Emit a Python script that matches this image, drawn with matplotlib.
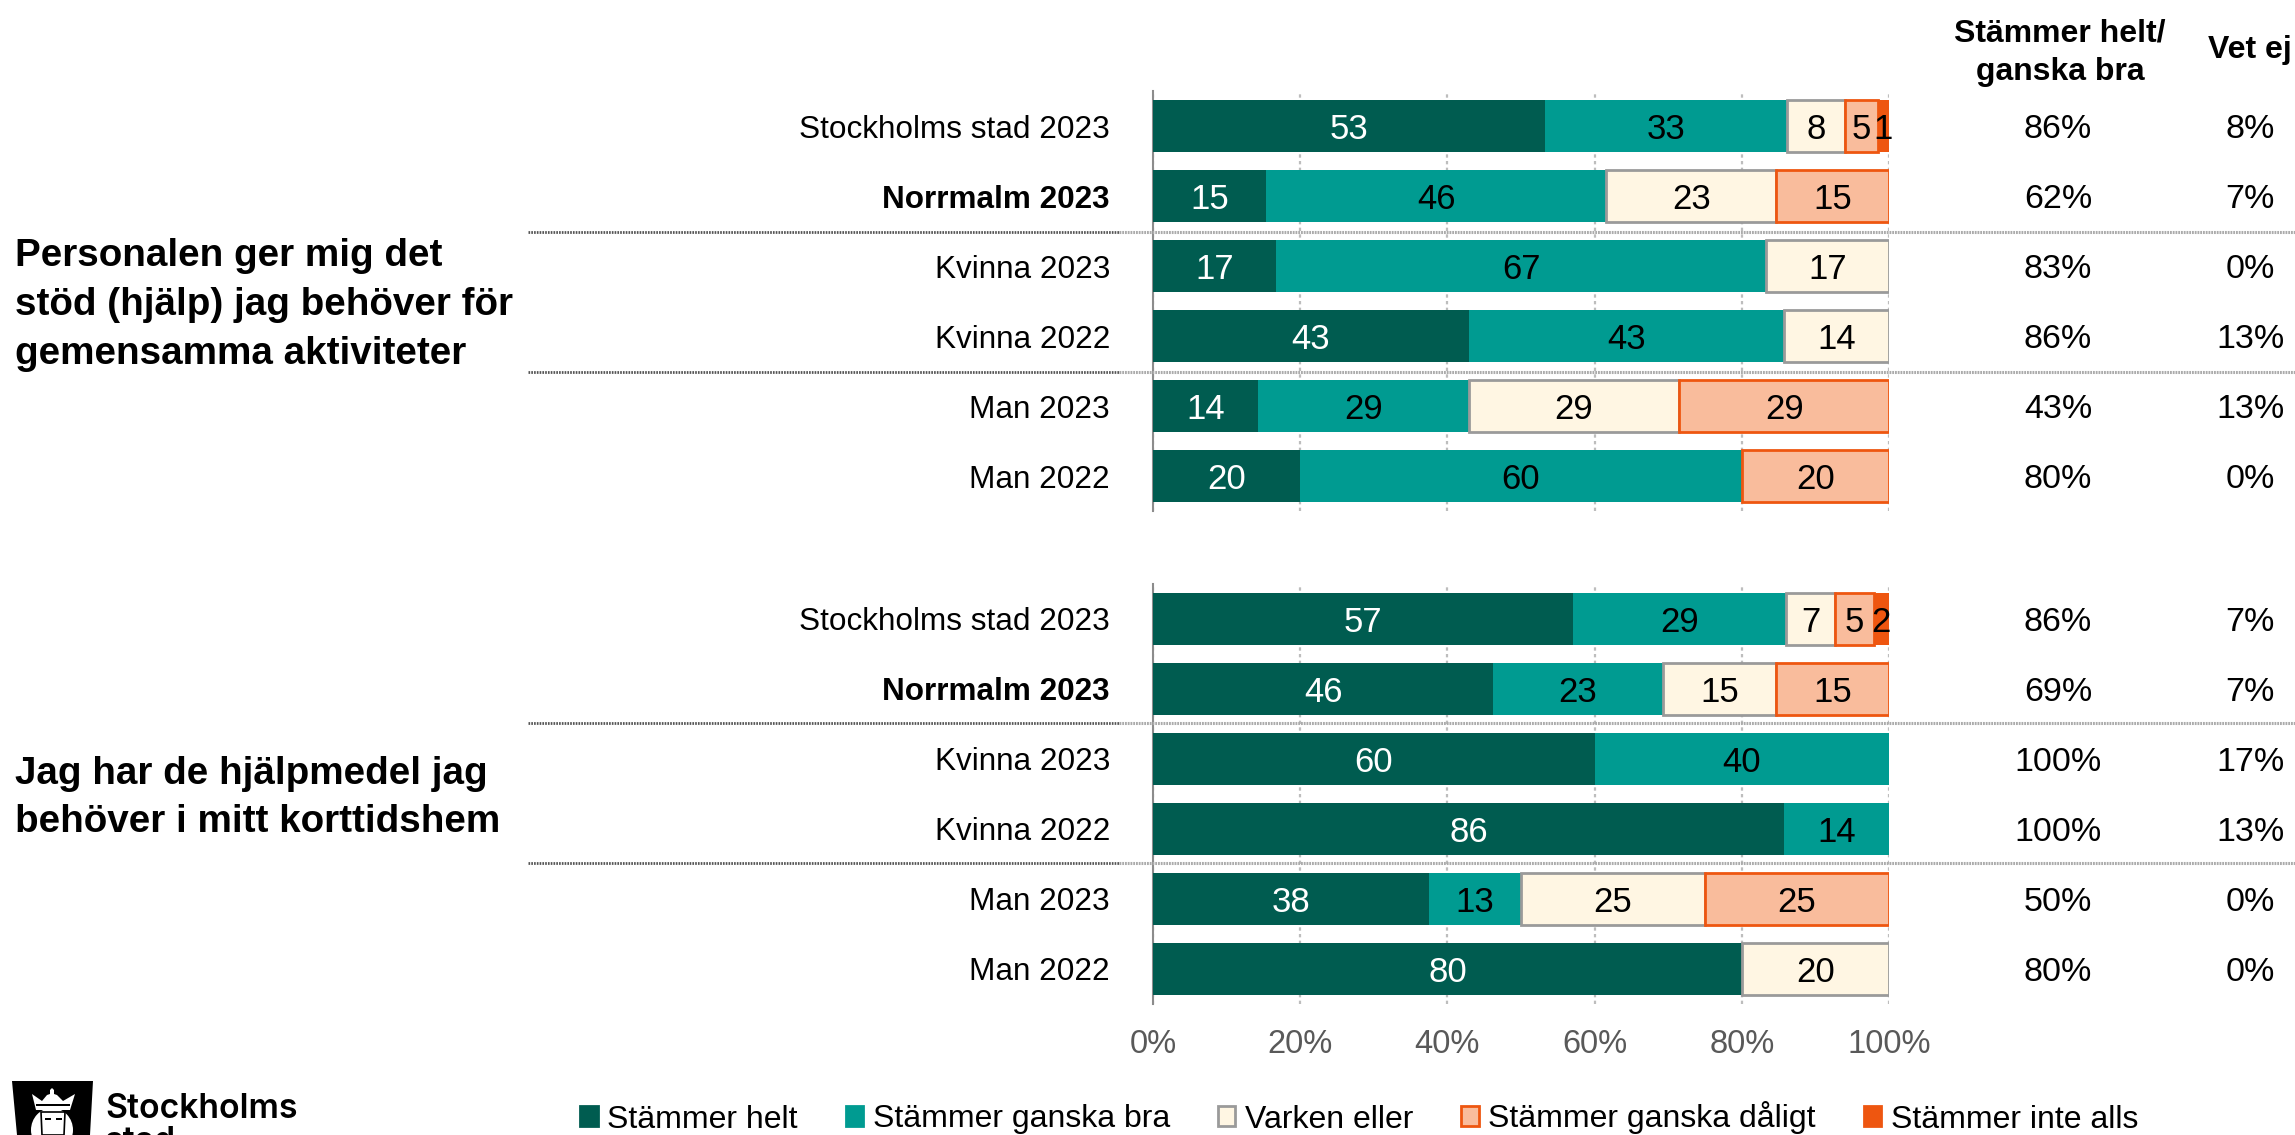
import numpy as np
import matplotlib.pyplot as plt
from matplotlib.patches import Patch, Polygon, Rectangle, Ellipse

plt.rcParams['font.family'] = ['Liberation Sans', 'DejaVu Sans']

# Data
rows = ["Stockholms stad 2023", "Norrmalm 2023", "Kvinna 2023", "Kvinna 2022", "Man 2023", "Man 2022"]
helt = [53.2, 15.4, 16.7, 42.9, 14.3, 20, 57.1, 46.2, 60, 85.7, 37.5, 80]
bra = [32.9, 46.2, 66.6, 42.9, 28.6, 60, 28.9, 23.1, 40, 14.3, 12.5, 0]
varken = [7.9, 23.1, 16.7, 14.2, 28.6, 0, 6.7, 15.4, 0, 0, 25, 20]
daligt = [4.5, 15.3, 0, 0, 28.5, 20, 5.2, 15.3, 0, 0, 25, 0]
inte = [1.5, 0, 0, 0, 0, 0, 2.1, 0, 0, 0, 0, 0]
labels_helt = ["53", "15", "17", "43", "14", "20", "57", "46", "60", "86", "38", "80"]
labels_bra = ["33", "46", "67", "43", "29", "60", "29", "23", "40", "14", "13", ""]
labels_varken = ["8", "23", "17", "14", "29", "", "7", "15", "", "", "25", "20"]
labels_daligt = ["5", "15", "", "", "29", "20", "5", "15", "", "", "25", ""]
labels_inte = ["1", "", "", "", "", "", "2", "", "", "", "", ""]
col_positive = ["86%", "62%", "83%", "86%", "43%", "80%", "86%", "69%", "100%", "100%", "50%", "80%"]
col_vetej = ["8%", "7%", "0%", "13%", "13%", "0%", "7%", "7%", "17%", "13%", "0%", "0%"]
series_names = ["Stämmer helt", "Stämmer ganska bra", "Varken eller", "Stämmer ganska dåligt", "Stämmer inte alls"]
xticks = [0, 20, 40, 60, 80, 100]
question1 = "Personalen ger mig det\nstöd (hjälp) jag behöver för\ngemensamma aktiviteter"
question2 = "Jag har de hjälpmedel jag\nbehöver i mitt korttidshem"

# Styles
W, H = 2295, 1135
fills = ["#005C50", "#009B91", "#FFF6E3", "#F9BC9C", "#EE5610"]
edges = ["#005C50", "#009B91", "#9A9A9A", "#EE5610", "#EE5610"]
widths = [0, 0, 2, 2, 0]
text_cols = ["white", "black", "black", "black", "black"]
groups = [helt, bra, varken, daligt, inte]
bar_labels = [labels_helt, labels_bra, labels_varken, labels_daligt, labels_inte]

fig = plt.figure(figsize=(W / 100, H / 100), dpi=100)


def draw_panel(top, bottom, start, show_ticks):
    ax = fig.add_axes([1153 / W, 1 - bottom / H, (1889 - 1153) / W, (bottom - top) / H])
    y = np.arange(6)
    left = np.zeros(6)
    for vals, lab, fc, ec, lw, tc in zip(groups, bar_labels, fills, edges, widths, text_cols):
        vals = np.array(vals[start:start + 6], dtype=float)
        lab = lab[start:start + 6]
        keep = vals > 0
        ax.barh(y[keep], vals[keep], left=left[keep], height=0.75, color=fc, edgecolor=ec, linewidth=lw, zorder=3)
        for i, t in enumerate(lab):
            if t:
                ax.text(left[i] + vals[i] / 2, y[i], t, ha="center", va="center_baseline", color=tc,
                        fontsize=25, zorder=5)
        left += vals

    ax.set_xlim(0, 100)
    ax.set_ylim(5.5, -0.5)
    ax.set_xticks(xticks)
    ax.set_xticklabels([f"{t}%" for t in xticks] if show_ticks else [], fontsize=23.5, color="#595959")
    ax.tick_params(axis="x", length=0, pad=18)
    ax.set_yticks([])
    for s in ["top", "right", "bottom"]:
        ax.spines[s].set_visible(False)
    ax.spines["left"].set_color("#8C8C8C")
    ax.spines["left"].set_linewidth(1.5)
    ax.xaxis.grid(True, color="#BDBDBD", linestyle=(0, (1.5, 1.5)), linewidth=1.6, zorder=0)
    ax.set_axisbelow(True)

    # row labels and the columns to the right
    trans = ax.get_yaxis_transform()
    for i, name in enumerate(rows):
        bold = name.startswith("Norrmalm")
        ax.text(-0.0585, i, name, transform=trans, ha="right", va="center_baseline", fontsize=22.7,
                fontweight="bold" if bold else "normal", color="black")
        ax.text(1.2295, i, col_positive[start + i], transform=trans, ha="center", va="center_baseline", fontsize=24.5)
        ax.text(1.4905, i, col_vetej[start + i], transform=trans, ha="center", va="center_baseline", fontsize=24.5)


draw_panel(91, 511, 0, False)
draw_panel(584, 1004, 6, True)

# headers
fig.text(2060 / W, 1 - 53 / H, "Stämmer helt/\nganska bra", ha="center", va="center", fontsize=23,
         fontweight="bold", linespacing=1.35)
fig.text(2250 / W, 1 - 50 / H, "Vet ej", ha="center", va="center", fontsize=23, fontweight="bold")

# questions
fig.text(15 / W, 1 - 305 / H, question1, ha="left", va="center", fontsize=27.8, fontweight="bold", linespacing=1.48)
fig.text(15 / W, 1 - 798 / H, question2, ha="left", va="center", fontsize=27.8, fontweight="bold", linespacing=1.42)

# separators
for yy in [232, 372, 723, 863]:
    fig.add_artist(plt.Line2D([528 / W, 1119 / W], [1 - yy / H] * 2, color="#555555", lw=2, ls=(0, (0.6, 0.4)), zorder=6))
    fig.add_artist(plt.Line2D([1119 / W, 1], [1 - yy / H] * 2, color="#ABABAB", lw=2.2, ls=(0, (0.6, 0.3)), zorder=6))

# legend
handles = [Patch(facecolor=f, edgecolor=e, linewidth=2) for f, e in zip(fills, edges)]
fig.legend(handles, series_names, loc="center left", bbox_to_anchor=(580 / W, 1 - 1118 / H), ncol=5, frameon=False,
           fontsize=23, handlelength=0.55, handleheight=0.6, handletextpad=0.3, columnspacing=1.5,
           borderpad=0, borderaxespad=0)

# logo
logo = fig.add_axes([0, 0, 320 / W, 75 / H])
logo.set_xlim(0, 320)
logo.set_ylim(75, 0)
logo.axis("off")
logo.add_patch(Polygon([[12, 21], [93, 21], [90, 75], [17, 75]], fc="black", ec="none"))
logo.add_patch(Ellipse((52, 70), 42, 44, fc="white", ec="none"))
logo.add_patch(Polygon([[41, 52], [65, 52], [64, 75], [42, 75]], fc="white", ec="black", lw=1.2))
logo.add_patch(Polygon([[32, 34], [42, 41], [47, 35], [50, 34], [50, 30], [52, 28], [54, 30], [54, 34], [57, 35],
                        [63, 41], [75, 34], [70, 50], [36, 50]], fc="white", ec="none"))
logo.add_patch(Rectangle((36, 44), 34, 1.5, fc="black", ec="none"))
logo.add_patch(Rectangle((45, 58), 6, 2, fc="black", ec="none"))
logo.add_patch(Rectangle((56, 58), 6, 2, fc="black", ec="none"))
logo.text(105, 58, "Stockholms", fontsize=24.3, fontweight="semibold", family="Inter", va="baseline", ha="left", clip_on=True)
logo.text(105, 91, "stad", fontsize=24.3, fontweight="semibold", family="Inter", va="baseline", ha="left", clip_on=True)

fig.savefig("out.png", dpi=100)
